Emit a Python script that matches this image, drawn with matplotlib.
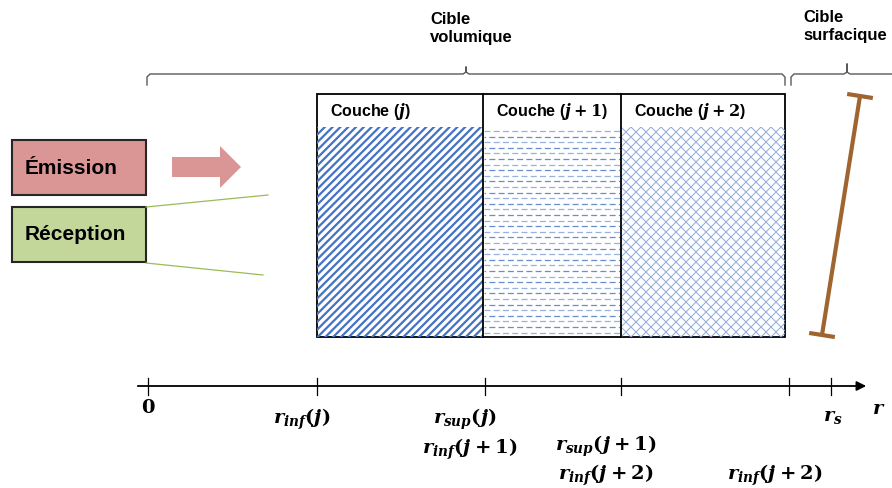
import matplotlib
matplotlib.use('Agg')
from matplotlib import pyplot as plt
from matplotlib.patches import Rectangle, Polygon
import numpy as np

plt.rcParams['font.family'] = ['Liberation Sans', 'DejaVu Sans']
plt.rcParams['mathtext.fontset'] = 'custom'
plt.rcParams['mathtext.it'] = 'DejaVu Serif:italic:bold'
plt.rcParams['mathtext.rm'] = 'DejaVu Serif:bold'
plt.rcParams['mathtext.bf'] = 'DejaVu Serif:bold'

# layers of the volume target (pixel positions of the boundaries)
layer_edges = [317, 483, 621, 785]
layer_names = ['Couche ($j$)', 'Couche ($j+1$)', 'Couche ($j+2$)']
layer_color = ['#4472C4', '#4472C4', '#8EA9DB']

# r axis ticks and labels
tick_pos = [148, 317, 485, 621, 789, 831]
axis_labels = [
    (148, 408, '$0$'),
    (302, 419, '$r_{inf}(j)$'),
    (465, 419, '$r_{sup}(j)$'),
    (470, 449, '$r_{inf}(j+1)$'),
    (606, 446, '$r_{sup}(j+1)$'),
    (606, 475, '$r_{inf}(j+2)$'),
    (775, 475, '$r_{inf}(j+2)$'),
    (833, 417, '$r_s$'),
    (879, 409, '$r$'),
]

fig = plt.figure(figsize=(8.92, 4.88), dpi=100)
ax = fig.add_axes([0, 0, 1, 1])
ax.set_xlim(0, 892)
ax.set_ylim(488, 0)
ax.axis('off')

# braces
def brace(x0, x1, xm, ytop, yend, ytip, col='#595959'):
    xs = [x0, x0, x0 + 3, xm - 3, xm, xm, xm, xm + 3, x1 - 3, x1, x1]
    ys = [yend, ytop + 3, ytop, ytop, ytop - 2, ytip, ytop - 2, ytop, ytop, ytop + 3, yend]
    ax.plot(xs, ys, color=col, lw=1)

brace(147, 785, 466, 74, 85, 67)
brace(791, 905, 847, 74, 85, 64)
ax.text(430, 12, 'Cible\nvolumique', fontsize=12, fontweight='bold', va='top', ha='left', linespacing=1.25)
ax.text(803, 10, 'Cible\nsurfacique', fontsize=12, fontweight='bold', va='top', ha='left', linespacing=1.25)

# emission / reception boxes
ax.add_patch(Rectangle((12, 140), 134, 55, facecolor='#DA9694', edgecolor='#262626', lw=1.5))
ax.text(25, 168, 'Émission', fontsize=15, fontweight='bold', va='center', ha='left')
ax.add_patch(Rectangle((12, 207), 134, 55, facecolor='#C4D79B', edgecolor='#262626', lw=1.5))
ax.text(25, 235, 'Réception', fontsize=15, fontweight='bold', va='center', ha='left')
ax.add_patch(Polygon([(172, 157), (220, 157), (220, 146), (241, 167), (220, 188), (220, 177), (172, 177)],
                     closed=True, facecolor='#DA9694', edgecolor='none'))
ax.plot([146, 268], [207, 195], color='#9BBB59', lw=0.9)
ax.plot([146, 263], [263, 275], color='#9BBB59', lw=0.9)

# volume layers
top, head, bottom = 94, 127, 337
h = bottom - head
for i in range(3):
    x0, x1 = layer_edges[i], layer_edges[i + 1]
    clip = Rectangle((x0, head), x1 - x0, h, transform=ax.transData)
    if i == 0:
        for s in np.arange(x0 - h, x1 + 8, 7.8):
            ln, = ax.plot([s, s + h], [bottom, head], color=layer_color[i], lw=1.6)
            ln.set_clip_path(clip)
    elif i == 1:
        rows = np.arange(head + 4, bottom, 5.6)
        for k, yy in enumerate(rows):
            ax.plot([x0 + 1, x1 - 1], [yy, yy], color=layer_color[i], lw=0.9,
                    alpha=0.8 if k % 2 else 0.55,
                    linestyle=(3.5 * (k % 2), (4.8, 2.6)))
    else:
        for s in np.arange(x0 - h, x1 + 10, 10.0):
            ln, = ax.plot([s, s + h], [bottom, head], color=layer_color[i], lw=0.7)
            ln.set_clip_path(clip)
            ln, = ax.plot([s, s + h], [head, bottom], color=layer_color[i], lw=0.7)
            ln.set_clip_path(clip)
    ax.text(x0 + 13, (top + head) / 2 + 1, layer_names[i], fontsize=11.5,
            fontweight='bold', va='center', ha='left')
ax.add_patch(Rectangle((layer_edges[0], top), layer_edges[-1] - layer_edges[0], bottom - top,
                       facecolor='none', edgecolor='black', lw=1.3))
for xe in layer_edges[1:-1]:
    ax.plot([xe, xe], [top, bottom], color='black', lw=1.3)

# surface target
bx = np.array([860, 822])
by = np.array([96, 335])
brown = '#A0652F'
ax.plot(bx, by, color=brown, lw=3, solid_capstyle='butt')
d = np.array([bx[1] - bx[0], by[1] - by[0]], dtype=float)
n = np.array([-d[1], d[0]]) / np.hypot(*d) * 13
for cx, cy in zip(bx, by):
    ax.plot([cx - n[0], cx + n[0]], [cy - n[1], cy + n[1]], color=brown, lw=3, solid_capstyle='butt')

# r axis
ax.annotate('', xy=(869, 386), xytext=(135, 386),
            arrowprops=dict(arrowstyle='-|>', color='black', lw=1.3, mutation_scale=14))
for t in tick_pos:
    ax.plot([t, t], [378, 395], color='black', lw=0.9)
for x, y, s in axis_labels:
    ax.text(x, y, s, fontsize=14, va='center', ha='center')

plt.savefig('out.png', dpi=100)
